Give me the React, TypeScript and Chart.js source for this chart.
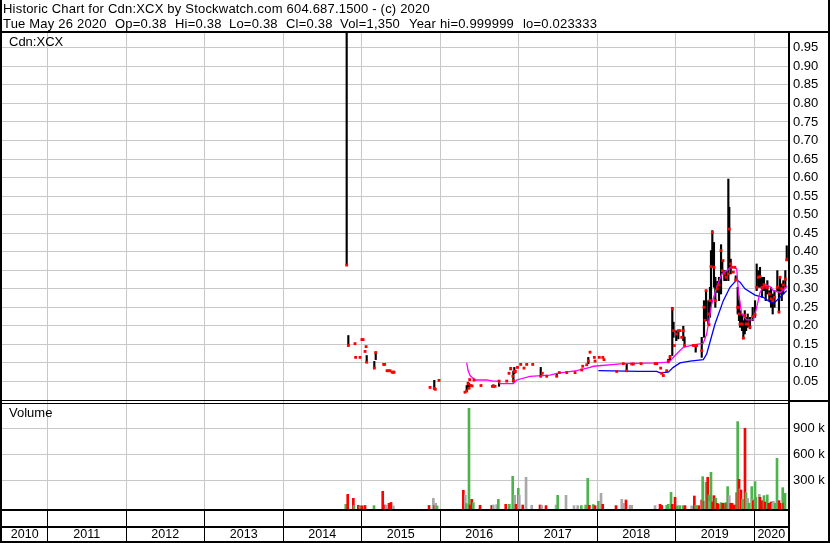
import React, { useEffect, useRef } from 'react';
import { Chart, registerables } from 'chart.js';

Chart.register(...registerables);

// ---------- axis ranges & tick labels ----------
const X_MIN = 2010.42;
const X_MAX = 2020.433;
const PRICE_MIN = 0;
const PRICE_MAX = 0.99;
const VOL_MIN = -31000;
const VOL_MAX = 1226000;

const yearGrid = [2011, 2012, 2013, 2014, 2015, 2016, 2017, 2018, 2019, 2020];
const yearLabels = ['2010', '2011', '2012', '2013', '2014', '2015', '2016', '2017', '2018', '2019', '2020'];
const yearLabelAt = [2010.71, 2011.5, 2012.5, 2013.5, 2014.5, 2015.5, 2016.5, 2017.5, 2018.5, 2019.5, 2020.22];
const priceTicks = [0.05, 0.1, 0.15, 0.2, 0.25, 0.3, 0.35, 0.4, 0.45, 0.5, 0.55, 0.6, 0.65, 0.7, 0.75, 0.8, 0.85, 0.9, 0.95];
const volumeTicks = [300000, 600000, 900000];

// ---------- texts ----------
const titleText = 'Historic Chart for Cdn:XCX by Stockwatch.com 604.687.1500 - (c) 2020';
const quoteParts = ['Tue May 26 2020', 'Op=0.38', 'Hi=0.38', 'Lo=0.38', 'Cl=0.38', 'Vol=1,350', 'Year hi=0.999999', 'lo=0.023333'];
const priceTitle = 'Cdn:XCX';
const volumeTitle = 'Volume';

// ---------- price data: [date, high, low, close] ----------
type PRow = [number, number, number, number];
const prices2014_15: PRow[] = [
  [2014.811, 0.999999, 0.364, 0.364],
  [2014.832, 0.174, 0.147, 0.147],
  [2014.917, 0.152, 0.152, 0.152],
  [2014.925, 0.115, 0.115, 0.115],
  [2014.981, 0.115, 0.115, 0.115],
  [2015.005, 0.163, 0.163, 0.163],
  [2015.020, 0.163, 0.163, 0.163],
  [2015.045, 0.131, 0.131, 0.131],
  [2015.058, 0.144, 0.144, 0.144],
  [2015.066, 0.120, 0.102, 0.102],
  [2015.163, 0.104, 0.086, 0.086],
  [2015.181, 0.129, 0.109, 0.128],
  [2015.282, 0.096, 0.096, 0.096],
  [2015.295, 0.096, 0.096, 0.096],
  [2015.325, 0.079, 0.079, 0.079],
  [2015.340, 0.079, 0.079, 0.079],
  [2015.363, 0.079, 0.079, 0.079],
  [2015.389, 0.075, 0.075, 0.075],
  [2015.405, 0.075, 0.075, 0.075],
  [2015.414, 0.075, 0.075, 0.075],
  [2015.873, 0.034, 0.034, 0.034],
  [2015.927, 0.053, 0.031, 0.031],
  [2015.940, 0.029, 0.029, 0.029],
  [2015.987, 0.053, 0.053, 0.053],
];
const prices2016_17: PRow[] = [
  [2016.318, 0.021, 0.021, 0.021],
  [2016.340, 0.039, 0.024, 0.024],
  [2016.357, 0.048, 0.034, 0.044],
  [2016.370, 0.045, 0.030, 0.032],
  [2016.378, 0.055, 0.055, 0.055],
  [2016.392, 0.039, 0.039, 0.039],
  [2016.408, 0.038, 0.038, 0.038],
  [2016.433, 0.054, 0.054, 0.054],
  [2016.522, 0.039, 0.039, 0.039],
  [2016.667, 0.037, 0.037, 0.037],
  [2016.680, 0.041, 0.037, 0.037],
  [2016.701, 0.037, 0.037, 0.037],
  [2016.752, 0.051, 0.037, 0.051],
  [2016.850, 0.051, 0.051, 0.051],
  [2016.879, 0.072, 0.072, 0.072],
  [2016.901, 0.088, 0.081, 0.085],
  [2016.928, 0.064, 0.064, 0.064],
  [2016.934, 0.078, 0.048, 0.053],
  [2016.947, 0.088, 0.071, 0.077],
  [2016.960, 0.077, 0.077, 0.077],
  [2016.987, 0.088, 0.088, 0.088],
  [2017.028, 0.096, 0.096, 0.096],
  [2017.070, 0.086, 0.086, 0.086],
  [2017.104, 0.096, 0.096, 0.096],
  [2017.181, 0.096, 0.096, 0.096],
  [2017.283, 0.088, 0.064, 0.064],
  [2017.303, 0.072, 0.072, 0.072],
  [2017.359, 0.064, 0.064, 0.064],
  [2017.487, 0.072, 0.064, 0.064],
  [2017.520, 0.074, 0.074, 0.074],
  [2017.614, 0.074, 0.074, 0.074],
  [2017.720, 0.074, 0.074, 0.074],
  [2017.805, 0.081, 0.081, 0.081],
  [2017.818, 0.091, 0.091, 0.091],
  [2017.869, 0.095, 0.095, 0.095],
  [2017.889, 0.115, 0.098, 0.105],
  [2017.911, 0.129, 0.129, 0.129],
  [2017.966, 0.115, 0.115, 0.115],
  [2017.975, 0.105, 0.105, 0.105],
];
const prices2018: PRow[] = [
  [2018.029, 0.115, 0.115, 0.115],
  [2018.073, 0.115, 0.115, 0.115],
  [2018.089, 0.109, 0.109, 0.109],
  [2018.251, 0.077, 0.077, 0.077],
  [2018.335, 0.098, 0.098, 0.098],
  [2018.378, 0.099, 0.079, 0.079],
  [2018.442, 0.097, 0.097, 0.097],
  [2018.463, 0.097, 0.097, 0.097],
  [2018.561, 0.098, 0.098, 0.098],
  [2018.740, 0.098, 0.098, 0.098],
  [2018.761, 0.098, 0.098, 0.098],
  [2018.811, 0.086, 0.086, 0.086],
  [2018.824, 0.072, 0.072, 0.072],
  [2018.845, 0.066, 0.066, 0.066],
  [2018.888, 0.079, 0.079, 0.079],
  [2018.908, 0.110, 0.100, 0.105],
  [2018.930, 0.120, 0.106, 0.116],
  [2018.959, 0.250, 0.120, 0.246],
  [2018.975, 0.210, 0.169, 0.187],
  [2018.985, 0.147, 0.147, 0.147],
];
const prices2019: PRow[] = [
  [2019.010, 0.187, 0.160, 0.178],
  [2019.036, 0.187, 0.165, 0.187],
  [2019.057, 0.187, 0.187, 0.187],
  [2019.079, 0.169, 0.169, 0.169],
  [2019.099, 0.199, 0.160, 0.187],
  [2019.115, 0.170, 0.147, 0.147],
  [2019.227, 0.147, 0.147, 0.147],
  [2019.257, 0.147, 0.129, 0.147],
  [2019.270, 0.147, 0.147, 0.147],
  [2019.334, 0.169, 0.115, 0.133],
  [2019.363, 0.268, 0.169, 0.250],
  [2019.376, 0.215, 0.215, 0.215],
  [2019.389, 0.295, 0.214, 0.295],
  [2019.418, 0.268, 0.205, 0.232],
  [2019.427, 0.203, 0.203, 0.203],
  [2019.439, 0.304, 0.223, 0.268],
  [2019.452, 0.403, 0.259, 0.360],
  [2019.469, 0.457, 0.358, 0.452],
  [2019.490, 0.425, 0.304, 0.358],
  [2019.507, 0.331, 0.250, 0.268],
  [2019.532, 0.320, 0.290, 0.300],
  [2019.554, 0.331, 0.268, 0.310],
  [2019.580, 0.419, 0.286, 0.403],
  [2019.596, 0.376, 0.340, 0.349],
  [2019.605, 0.376, 0.376, 0.376],
  [2019.622, 0.349, 0.322, 0.340],
  [2019.643, 0.349, 0.322, 0.331],
  [2019.673, 0.596, 0.322, 0.340],
  [2019.685, 0.520, 0.358, 0.461],
  [2019.703, 0.380, 0.340, 0.367],
  [2019.720, 0.358, 0.358, 0.358],
  [2019.736, 0.345, 0.345, 0.345],
  [2019.755, 0.358, 0.358, 0.358],
  [2019.767, 0.335, 0.322, 0.324],
  [2019.792, 0.304, 0.232, 0.250],
  [2019.809, 0.268, 0.214, 0.232],
  [2019.822, 0.241, 0.196, 0.205],
  [2019.847, 0.232, 0.187, 0.205],
  [2019.864, 0.214, 0.165, 0.167],
  [2019.882, 0.241, 0.178, 0.228],
  [2019.900, 0.223, 0.187, 0.205],
  [2019.920, 0.232, 0.196, 0.205],
  [2019.949, 0.223, 0.192, 0.196],
  [2019.983, 0.250, 0.214, 0.225],
];
const prices2020: PRow[] = [
  [2020.013, 0.268, 0.223, 0.230],
  [2020.034, 0.367, 0.295, 0.304],
  [2020.055, 0.349, 0.304, 0.331],
  [2020.076, 0.358, 0.304, 0.333],
  [2020.102, 0.331, 0.277, 0.304],
  [2020.127, 0.331, 0.295, 0.311],
  [2020.149, 0.304, 0.268, 0.304],
  [2020.170, 0.322, 0.286, 0.304],
  [2020.195, 0.295, 0.268, 0.286],
  [2020.217, 0.304, 0.250, 0.273],
  [2020.238, 0.286, 0.232, 0.268],
  [2020.261, 0.295, 0.250, 0.277],
  [2020.297, 0.349, 0.295, 0.304],
  [2020.318, 0.304, 0.237, 0.237],
  [2020.331, 0.331, 0.286, 0.331],
  [2020.353, 0.313, 0.268, 0.300],
  [2020.373, 0.322, 0.286, 0.310],
  [2020.399, 0.349, 0.304, 0.326],
  [2020.417, 0.416, 0.376, 0.378],
  [2020.429, 0.380, 0.380, 0.380],
];

// ---------- moving averages: [date, value] ----------
const maShort: [number, number][] = [
  [2016.340, 0.100], [2016.357, 0.080], [2016.382, 0.066], [2016.446, 0.054], [2016.595, 0.054],
  [2016.675, 0.051], [2016.739, 0.051], [2016.764, 0.044], [2016.934, 0.044], [2016.977, 0.054],
  [2017.146, 0.064], [2017.401, 0.067], [2017.487, 0.072], [2017.741, 0.079], [2017.911, 0.088],
  [2017.953, 0.091], [2018.335, 0.098], [2018.761, 0.100], [2018.908, 0.102], [2018.930, 0.105],
  [2018.994, 0.120], [2019.099, 0.142], [2019.227, 0.149], [2019.354, 0.153], [2019.397, 0.178],
  [2019.461, 0.259], [2019.525, 0.304], [2019.589, 0.340], [2019.652, 0.349], [2019.716, 0.360],
  [2019.780, 0.354], [2019.800, 0.295], [2019.843, 0.232], [2019.907, 0.216], [2019.991, 0.216],
  [2020.034, 0.250], [2020.076, 0.290], [2020.140, 0.311], [2020.204, 0.306], [2020.246, 0.295],
  [2020.331, 0.290], [2020.395, 0.300], [2020.424, 0.308],
];
const maLong: [number, number][] = [
  [2018.017, 0.079], [2018.535, 0.077], [2018.761, 0.077], [2018.803, 0.073], [2018.908, 0.075],
  [2018.972, 0.088], [2019.057, 0.100], [2019.185, 0.105], [2019.354, 0.109], [2019.397, 0.124],
  [2019.503, 0.205], [2019.609, 0.268], [2019.694, 0.304], [2019.780, 0.324], [2019.822, 0.318],
  [2019.885, 0.300], [2020.013, 0.283], [2020.118, 0.277], [2020.204, 0.264], [2020.268, 0.264],
  [2020.331, 0.277], [2020.417, 0.295],
];

// ---------- volume: [date, volume, direction g=up r=down n=unchanged] ----------
type VRow = [number, number, string];
const vol2014_15: VRow[] = [
  [2014.799, 23000, 'g'], [2014.824, 138000, 'r'], [2014.896, 92000, 'r'], [2014.904, 10000, 'g'],
  [2014.959, 12000, 'r'], [2014.981, 6000, 'g'], [2015.006, 6000, 'r'], [2015.045, 10000, 'r'],
  [2015.159, 8000, 'g'], [2015.270, 173000, 'r'], [2015.295, 15000, 'r'], [2015.312, 12000, 'n'],
  [2015.350, 35000, 'r'], [2015.376, 45000, 'r'], [2015.405, 6000, 'n'], [2015.860, 10000, 'r'],
  [2015.915, 92000, 'n'], [2015.932, 10000, 'r'], [2015.945, 35000, 'n'], [2015.962, 5000, 'g'],
];
const vol2016_17: VRow[] = [
  [2016.297, 185000, 'r'], [2016.322, 130000, 'n'], [2016.335, 31000, 'g'], [2016.369, 1130000, 'g'],
  [2016.382, 15000, 'r'], [2016.404, 80000, 'r'], [2016.424, 42000, 'g'], [2016.510, 12000, 'r'],
  [2016.659, 10000, 'r'], [2016.679, 15000, 'n'], [2016.722, 20000, 'n'], [2016.743, 80000, 'g'],
  [2016.837, 23000, 'r'], [2016.883, 23000, 'g'], [2016.926, 346000, 'g'], [2016.951, 127000, 'n'],
  [2016.968, 23000, 'r'], [2016.997, 208000, 'g'], [2017.010, 130000, 'n'], [2017.054, 15000, 'r'],
  [2017.096, 335000, 'n'], [2017.168, 12000, 'n'], [2017.274, 15000, 'r'], [2017.296, 10000, 'n'],
  [2017.350, 8000, 'r'], [2017.478, 15000, 'n'], [2017.499, 127000, 'g'], [2017.605, 127000, 'n'],
  [2017.707, 8000, 'n'], [2017.754, 8000, 'n'], [2017.800, 8000, 'g'], [2017.856, 15000, 'g'],
  [2017.882, 323000, 'g'], [2017.902, 12000, 'r'], [2017.953, 20000, 'g'], [2017.975, 8000, 'r'],
];
const vol2018: VRow[] = [
  [2018.017, 58000, 'g'], [2018.051, 150000, 'n'], [2018.073, 23000, 'r'], [2018.242, 8000, 'r'],
  [2018.315, 80000, 'n'], [2018.335, 35000, 'n'], [2018.369, 73000, 'r'], [2018.420, 12000, 'n'],
  [2018.442, 12000, 'n'], [2018.739, 8000, 'n'], [2018.803, 23000, 'r'], [2018.824, 10000, 'r'],
  [2018.888, 12000, 'g'], [2018.908, 23000, 'g'], [2018.943, 162000, 'g'], [2018.959, 23000, 'r'],
  [2018.994, 104000, 'r'],
];
const vol2019: VRow[] = [
  [2019.023, 8000, 'g'], [2019.057, 8000, 'g'], [2019.099, 8000, 'g'], [2019.121, 8000, 'r'],
  [2019.206, 5000, 'n'], [2019.240, 119000, 'r'], [2019.257, 12000, 'g'], [2019.295, 8000, 'r'],
  [2019.334, 73000, 'r'], [2019.346, 342000, 'g'], [2019.363, 58000, 'r'], [2019.376, 58000, 'n'],
  [2019.389, 277000, 'g'], [2019.410, 335000, 'r'], [2019.427, 131000, 'g'], [2019.439, 58000, 'n'],
  [2019.452, 392000, 'g'], [2019.473, 50000, 'r'], [2019.490, 123000, 'r'], [2019.512, 92000, 'g'],
  [2019.532, 35000, 'r'], [2019.545, 23000, 'r'], [2019.580, 42000, 'g'], [2019.601, 35000, 'r'],
  [2019.618, 35000, 'r'], [2019.639, 42000, 'g'], [2019.652, 35000, 'r'], [2019.664, 227000, 'g'],
  [2019.685, 123000, 'n'], [2019.703, 35000, 'r'], [2019.720, 35000, 'r'], [2019.749, 15000, 'r'],
  [2019.780, 158000, 'r'], [2019.792, 977000, 'g'], [2019.809, 311000, 'r'], [2019.822, 200000, 'n'],
  [2019.834, 188000, 'r'], [2019.851, 81000, 'g'], [2019.885, 900000, 'r'], [2019.898, 158000, 'g'],
  [2019.920, 92000, 'n'], [2019.936, 35000, 'g'], [2019.971, 227000, 'g'], [2019.984, 81000, 'n'],
  [2019.992, 65000, 'r'],
];
const vol2020: VRow[] = [
  [2020.013, 285000, 'g'], [2020.025, 104000, 'g'], [2020.068, 138000, 'n'], [2020.076, 104000, 'r'],
  [2020.098, 65000, 'r'], [2020.127, 123000, 'g'], [2020.140, 50000, 'r'], [2020.169, 131000, 'g'],
  [2020.187, 35000, 'r'], [2020.217, 50000, 'r'], [2020.234, 35000, 'g'], [2020.246, 58000, 'n'],
  [2020.271, 35000, 'g'], [2020.293, 554000, 'g'], [2020.306, 65000, 'n'], [2020.318, 65000, 'r'],
  [2020.331, 35000, 'r'], [2020.366, 215000, 'g'], [2020.378, 35000, 'r'], [2020.395, 150000, 'g'],
];

// ---------- styles ----------
const FONT_FAMILY = '"Liberation Sans", Arial, sans-serif';
const GRID = '#c8c8c8';
const DIR_COLORS: Record<string, string> = { g: '#4db34d', r: '#ff0000', n: '#a8a8a8' };

const framePlugin = {
  id: 'stockFrame',
  beforeDraw(chart: any) {
    const ctx = chart.ctx;
    ctx.save();
    ctx.fillStyle = '#ffffff';
    ctx.fillRect(0, 0, chart.width, chart.height);
    ctx.restore();
  },
  afterDraw(chart: any) {
    const ctx = chart.ctx;
    const xs = chart.scales.x;
    const W = chart.width;
    const H = chart.height;
    const right = chart.chartArea.right;
    const bottom = chart.chartArea.bottom;
    const split = chart.scales.y.bottom;
    ctx.save();
    ctx.fillStyle = '#000';
    ctx.fillRect(0, 0, 2, H);
    ctx.fillRect(W - 2, 0, 2, H);
    ctx.fillRect(0, 31, W, 2);
    ctx.fillRect(right, 31, 2, H - 31);
    ctx.fillRect(0, split, right, 1);
    ctx.fillRect(0, split + 3, right, 1);
    ctx.fillRect(right, split, W - right, 2);
    ctx.fillRect(0, bottom, right, 2);
    ctx.fillRect(0, bottom + 17, right, 2);
    ctx.fillRect(0, H - 2, W, 2);
    yearGrid.forEach((yr) => {
      const px = Math.round(xs.getPixelForValue(yr) - 0.5);
      ctx.fillRect(px, bottom + 2, 1, H - bottom - 4);
    });
    ctx.textAlign = 'left';
    ctx.textBaseline = 'alphabetic';
    ctx.font = `13px ${FONT_FAMILY}`;
    (ctx as any).letterSpacing = '0.2px';
    ctx.fillText(titleText, 3, 13);
    const quoteX = [3, 115, 175, 229, 286, 340, 409, 523];
    quoteParts.forEach((t, i) => ctx.fillText(t, quoteX[i], 28));
    (ctx as any).letterSpacing = '0px';
    ctx.fillText(priceTitle, 9, 46);
    ctx.fillText(volumeTitle, 9, 417);
    ctx.restore();
  },
};

const noPad = (s: any) => {
  s.paddingLeft = 0;
  s.paddingRight = 0;
};

export default function App() {
  const ref = useRef<HTMLCanvasElement>(null);

  useEffect(() => {
    const canvas = ref.current;
    if (!canvas) return;
    const priceRows = [...prices2014_15, ...prices2016_17, ...prices2018, ...prices2019, ...prices2020];
    const volRows = [...vol2014_15, ...vol2016_17, ...vol2018, ...vol2019, ...vol2020];

    const rangeBars = priceRows.filter((r) => r[1] > r[2]).map((r) => ({ x: r[0], y: [r[2], r[1]] }));
    const closes = priceRows.map((r) => ({ x: r[0], y: r[3] }));
    const shortPts = maShort.map((r) => ({ x: r[0], y: r[1] }));
    const longPts = maLong.map((r) => ({ x: r[0], y: r[1] }));
    const volPts = volRows.map((r) => ({ x: r[0], y: r[1] }));
    const volColors = volRows.map((r) => DIR_COLORS[r[2]]);

    const labelFont = { family: FONT_FAMILY, size: 13 };

    const chart = new Chart(canvas, {
      type: 'bar',
      data: {
        datasets: [
          {
            type: 'line', label: 'Close', data: closes as any, showLine: false,
            pointStyle: 'rect', pointRadius: 2, pointHoverRadius: 2,
            pointBackgroundColor: '#ff0000', pointBorderWidth: 0, borderColor: '#ff0000',
            xAxisID: 'x', yAxisID: 'y', order: 0,
          } as any,
          {
            type: 'line', label: 'MA short', data: shortPts as any, borderColor: '#ff00ff',
            borderWidth: 1.3, pointRadius: 0, tension: 0, xAxisID: 'x', yAxisID: 'y', order: 1,
          } as any,
          {
            type: 'line', label: 'MA long', data: longPts as any, borderColor: '#0000ff',
            borderWidth: 1.3, pointRadius: 0, tension: 0, xAxisID: 'x', yAxisID: 'y', order: 2,
          } as any,
          {
            type: 'bar', label: 'Range', data: rangeBars as any, backgroundColor: '#000000',
            barThickness: 1.5, grouped: false, borderWidth: 0, xAxisID: 'x', yAxisID: 'y', order: 3,
          } as any,
          {
            type: 'bar', label: 'Volume', data: volPts as any, backgroundColor: volColors,
            barThickness: 2, grouped: false, borderWidth: 0, base: VOL_MIN,
            xAxisID: 'x', yAxisID: 'yv', order: 4,
          } as any,
        ],
      },
      options: {
        responsive: false,
        maintainAspectRatio: false,
        devicePixelRatio: 1,
        animation: false,
        events: [],
        layout: { padding: { left: 2, top: 33, right: 0, bottom: 0 } },
        plugins: { legend: { display: false }, tooltip: { enabled: false }, title: { display: false } },
        scales: {
          x: {
            type: 'linear', position: 'bottom', min: X_MIN, max: X_MAX, offset: false,
            grid: { color: GRID, lineWidth: 1, drawTicks: false, offset: false },
            border: { display: false },
            ticks: { display: false },
            afterBuildTicks: (s: any) => { s.ticks = yearGrid.map((v) => ({ value: v })); },
            afterFit: (s: any) => { s.height = 0; noPad(s); },
          },
          xl: {
            type: 'linear', axis: 'x', position: 'bottom', min: X_MIN, max: X_MAX, offset: false,
            grid: { display: false, drawTicks: false, offset: false },
            border: { display: false },
            ticks: {
              autoSkip: false, maxRotation: 0, minRotation: 0, padding: 18.5, color: '#000',
              font: { family: FONT_FAMILY, size: 12.5 },
              callback: (_v: any, i: number) => yearLabels[i],
            },
            afterBuildTicks: (s: any) => { s.ticks = yearLabelAt.map((v) => ({ value: v })); },
            afterFit: (s: any) => { s.height = 34; noPad(s); },
          },
          y: {
            type: 'linear', position: 'right', stack: 'panels', stackWeight: 367,
            min: PRICE_MIN, max: PRICE_MAX,
            grid: { color: GRID, lineWidth: 1, drawTicks: false },
            border: { display: false },
            ticks: {
              autoSkip: false, padding: 5, color: '#000', font: labelFont,
              callback: (v: any) => Number(v).toFixed(2),
            },
            afterBuildTicks: (s: any) => { s.ticks = priceTicks.map((v) => ({ value: v })); },
            afterFit: (s: any) => { s.width = 42; s.paddingTop = 0; s.paddingBottom = 0; },
          },
          yv: {
            type: 'linear', position: 'right', stack: 'panels', stackWeight: 109,
            min: VOL_MIN, max: VOL_MAX,
            grid: { color: GRID, lineWidth: 1, drawTicks: false },
            border: { display: false },
            ticks: {
              autoSkip: false, padding: 5, color: '#000', font: labelFont,
              callback: (v: any) => `${Math.round(Number(v) / 1000)} k`,
            },
            afterBuildTicks: (s: any) => { s.ticks = volumeTicks.map((v) => ({ value: v })); },
            afterFit: (s: any) => { s.width = 42; s.paddingTop = 0; s.paddingBottom = 0; },
          },
        },
      } as any,
      plugins: [framePlugin],
    });
    return () => chart.destroy();
  }, []);

  return (
    <div style={{ position: 'absolute', left: 0, top: 0, width: 830, height: 543, background: '#fff' }}>
      <canvas ref={ref} width={830} height={543} style={{ display: 'block', width: 830, height: 543 }} />
    </div>
  );
}
